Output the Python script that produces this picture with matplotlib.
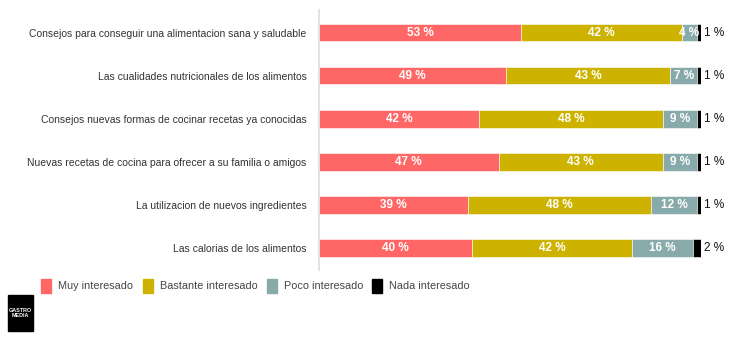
import matplotlib.pyplot as plt
from matplotlib.patches import Rectangle
import numpy as np

categories = [
    "Consejos para conseguir una alimentacion sana y saludable",
    "Las cualidades nutricionales de los alimentos",
    "Consejos nuevas formas de cocinar recetas ya conocidas",
    "Nuevas recetas de cocina para ofrecer a su familia o amigos",
    "La utilizacion de nuevos ingredientes",
    "Las calorias de los alimentos",
]
muy = [53, 49, 42, 47, 39, 40]
bastante = [42, 43, 48, 43, 48, 42]
poco = [4, 7, 9, 9, 12, 16]
nada = [1, 1, 1, 1, 1, 2]

series_names = ["Muy interesado", "Bastante interesado", "Poco interesado", "Nada interesado"]
colors = ["#FF6666", "#CDB300", "#89AAAA", "#000000"]

plt.rcParams["font.family"] = ["Liberation Sans", "DejaVu Sans"]

fig = plt.figure(figsize=(7.41, 3.39), dpi=100)
W, H = 741, 339
ax = fig.add_axes([319 / W, 1 - 270 / H, (701 - 319) / W, 260 / H])

y = np.arange(len(categories))
data = [muy, bastante, poco, nada]
left = np.zeros(len(categories))
for i, (vals, col) in enumerate(zip(data, colors)):
    vals = np.array(vals, dtype=float)
    ax.barh(y, vals, left=left, height=0.4, color=col, edgecolor="white",
            linewidth=0.4)
    for yi, (l, v) in enumerate(zip(left, vals)):
        if i < 3:
            ax.text(l + v / 2, yi, f"{int(v)} %", ha="center", va="center",
                    color="white", fontsize=8.5, fontweight="bold", clip_on=False)
        else:
            ax.text(l + v + 0.8, yi, f"{int(v)} %", ha="left", va="center",
                    color="#111111", fontsize=8.5, clip_on=False)
    left += vals

ax.set_xlim(0, 100)
ax.set_ylim(5.51, -0.53)
ax.set_yticks(y)
ax.set_yticklabels(categories, fontsize=7.5, color="#333333")
ax.tick_params(axis="y", length=0, pad=9)
ax.set_xticks([])
for s in ["top", "right", "bottom"]:
    ax.spines[s].set_visible(False)
ax.spines["left"].set_color("#dddddd")
ax.spines["left"].set_linewidth(1.2)

# legend
leg_x = [41, 143, 267, 372]
for name, col, lx in zip(series_names, colors, leg_x):
    fig.patches.append(Rectangle((lx / W, 1 - 293 / H), 10 / W, 14 / H,
                                 transform=fig.transFigure, color=col))
    fig.text((lx + 17) / W, 1 - 286 / H, name, ha="left", va="center",
             fontsize=7.8, color="#444444")

# logo
fig.patches.append(Rectangle((8 / W, 1 - 331 / H), 25 / W, 36 / H,
                             transform=fig.transFigure, color="black"))
fig.text(20.5 / W, 1 - 313 / H, "GASTRO\nMEDIA", ha="center", va="center",
         fontsize=3.9, color="white", fontweight="bold", linespacing=1.0)

fig.savefig("out.png", dpi=100)
